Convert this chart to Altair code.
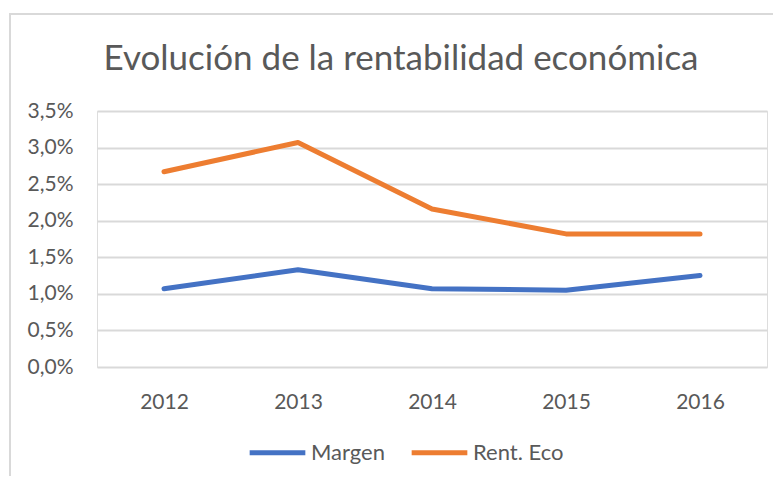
import altair as alt
import pandas as pd

years = ["2012", "2013", "2014", "2015", "2016"]
margen = [0.0107, 0.0133, 0.0107, 0.0105, 0.0125]
rent_eco = [0.0267, 0.0307, 0.0216, 0.0182, 0.0182]
series_names = ["Margen", "Rent. Eco"]
colors = ["#4472C4", "#ED7D31"]
y_ticks = [0.0, 0.005, 0.01, 0.015, 0.02, 0.025, 0.03, 0.035]

rows = []
for i, y in enumerate(years):
    rows.append({"Año": y, "Serie": series_names[0], "Valor": margen[i]})
    rows.append({"Año": y, "Serie": series_names[1], "Valor": rent_eco[i]})
df = pd.DataFrame(rows)

FONT = "Lato"
TXT = "#595959"

frame = alt.Chart(pd.DataFrame({"f": [0]})).mark_rect(
    fill="transparent", stroke="#D9D9D9", strokeWidth=2
).encode(x=alt.value(-87), x2=alt.value(700), y=alt.value(-97), y2=alt.value(500))

lines = alt.Chart(df).mark_line(strokeWidth=5, strokeCap="round", strokeJoin="round").encode(
    x=alt.X("Año:O", sort=years, title=None,
            scale=alt.Scale(paddingInner=0, paddingOuter=0.5),
            axis=alt.Axis(labelAngle=0, ticks=False, domain=False, labelPadding=24,
                          labelFontSize=21, labelColor=TXT, labelFont=FONT, grid=False)),
    y=alt.Y("Valor:Q", title=None,
            scale=alt.Scale(domain=[0, 0.035], nice=False, zero=True),
            axis=alt.Axis(values=y_ticks, format=".1%",
                          labelExpr="replace(datum.label, '.', ',')",
                          ticks=False, domain=False, labelPadding=24,
                          labelFontSize=21, labelColor=TXT, labelFont=FONT,
                          gridColor="#D9D9D9", gridWidth=2)),
    color=alt.Color("Serie:N", sort=series_names,
                    scale=alt.Scale(domain=series_names, range=colors),
                    legend=alt.Legend(title=None, orient="none", direction="horizontal",
                                      legendX=150, legendY=311,
                                      symbolType="stroke", symbolStrokeWidth=5, symbolSize=3100,
                                      labelFontSize=22, labelColor=TXT, labelFont=FONT,
                                      labelOffset=3, columnPadding=16)),
)

chart = alt.layer(frame, lines).properties(
    width=670, height=256,
    title=alt.TitleParams("Evolución de la rentabilidad económica", fontSize=35,
                          font=FONT, color=TXT, fontWeight="normal",
                          anchor="middle", dx=-31, offset=-64),
    autosize=alt.AutoSizeParams(type="none"),
    padding={"left": 89, "top": 103, "right": 6, "bottom": 109},
).configure_view(stroke="transparent", strokeWidth=0).configure(background="white")

chart.save("out.html", embed_options={"renderer": "svg", "actions": False})
